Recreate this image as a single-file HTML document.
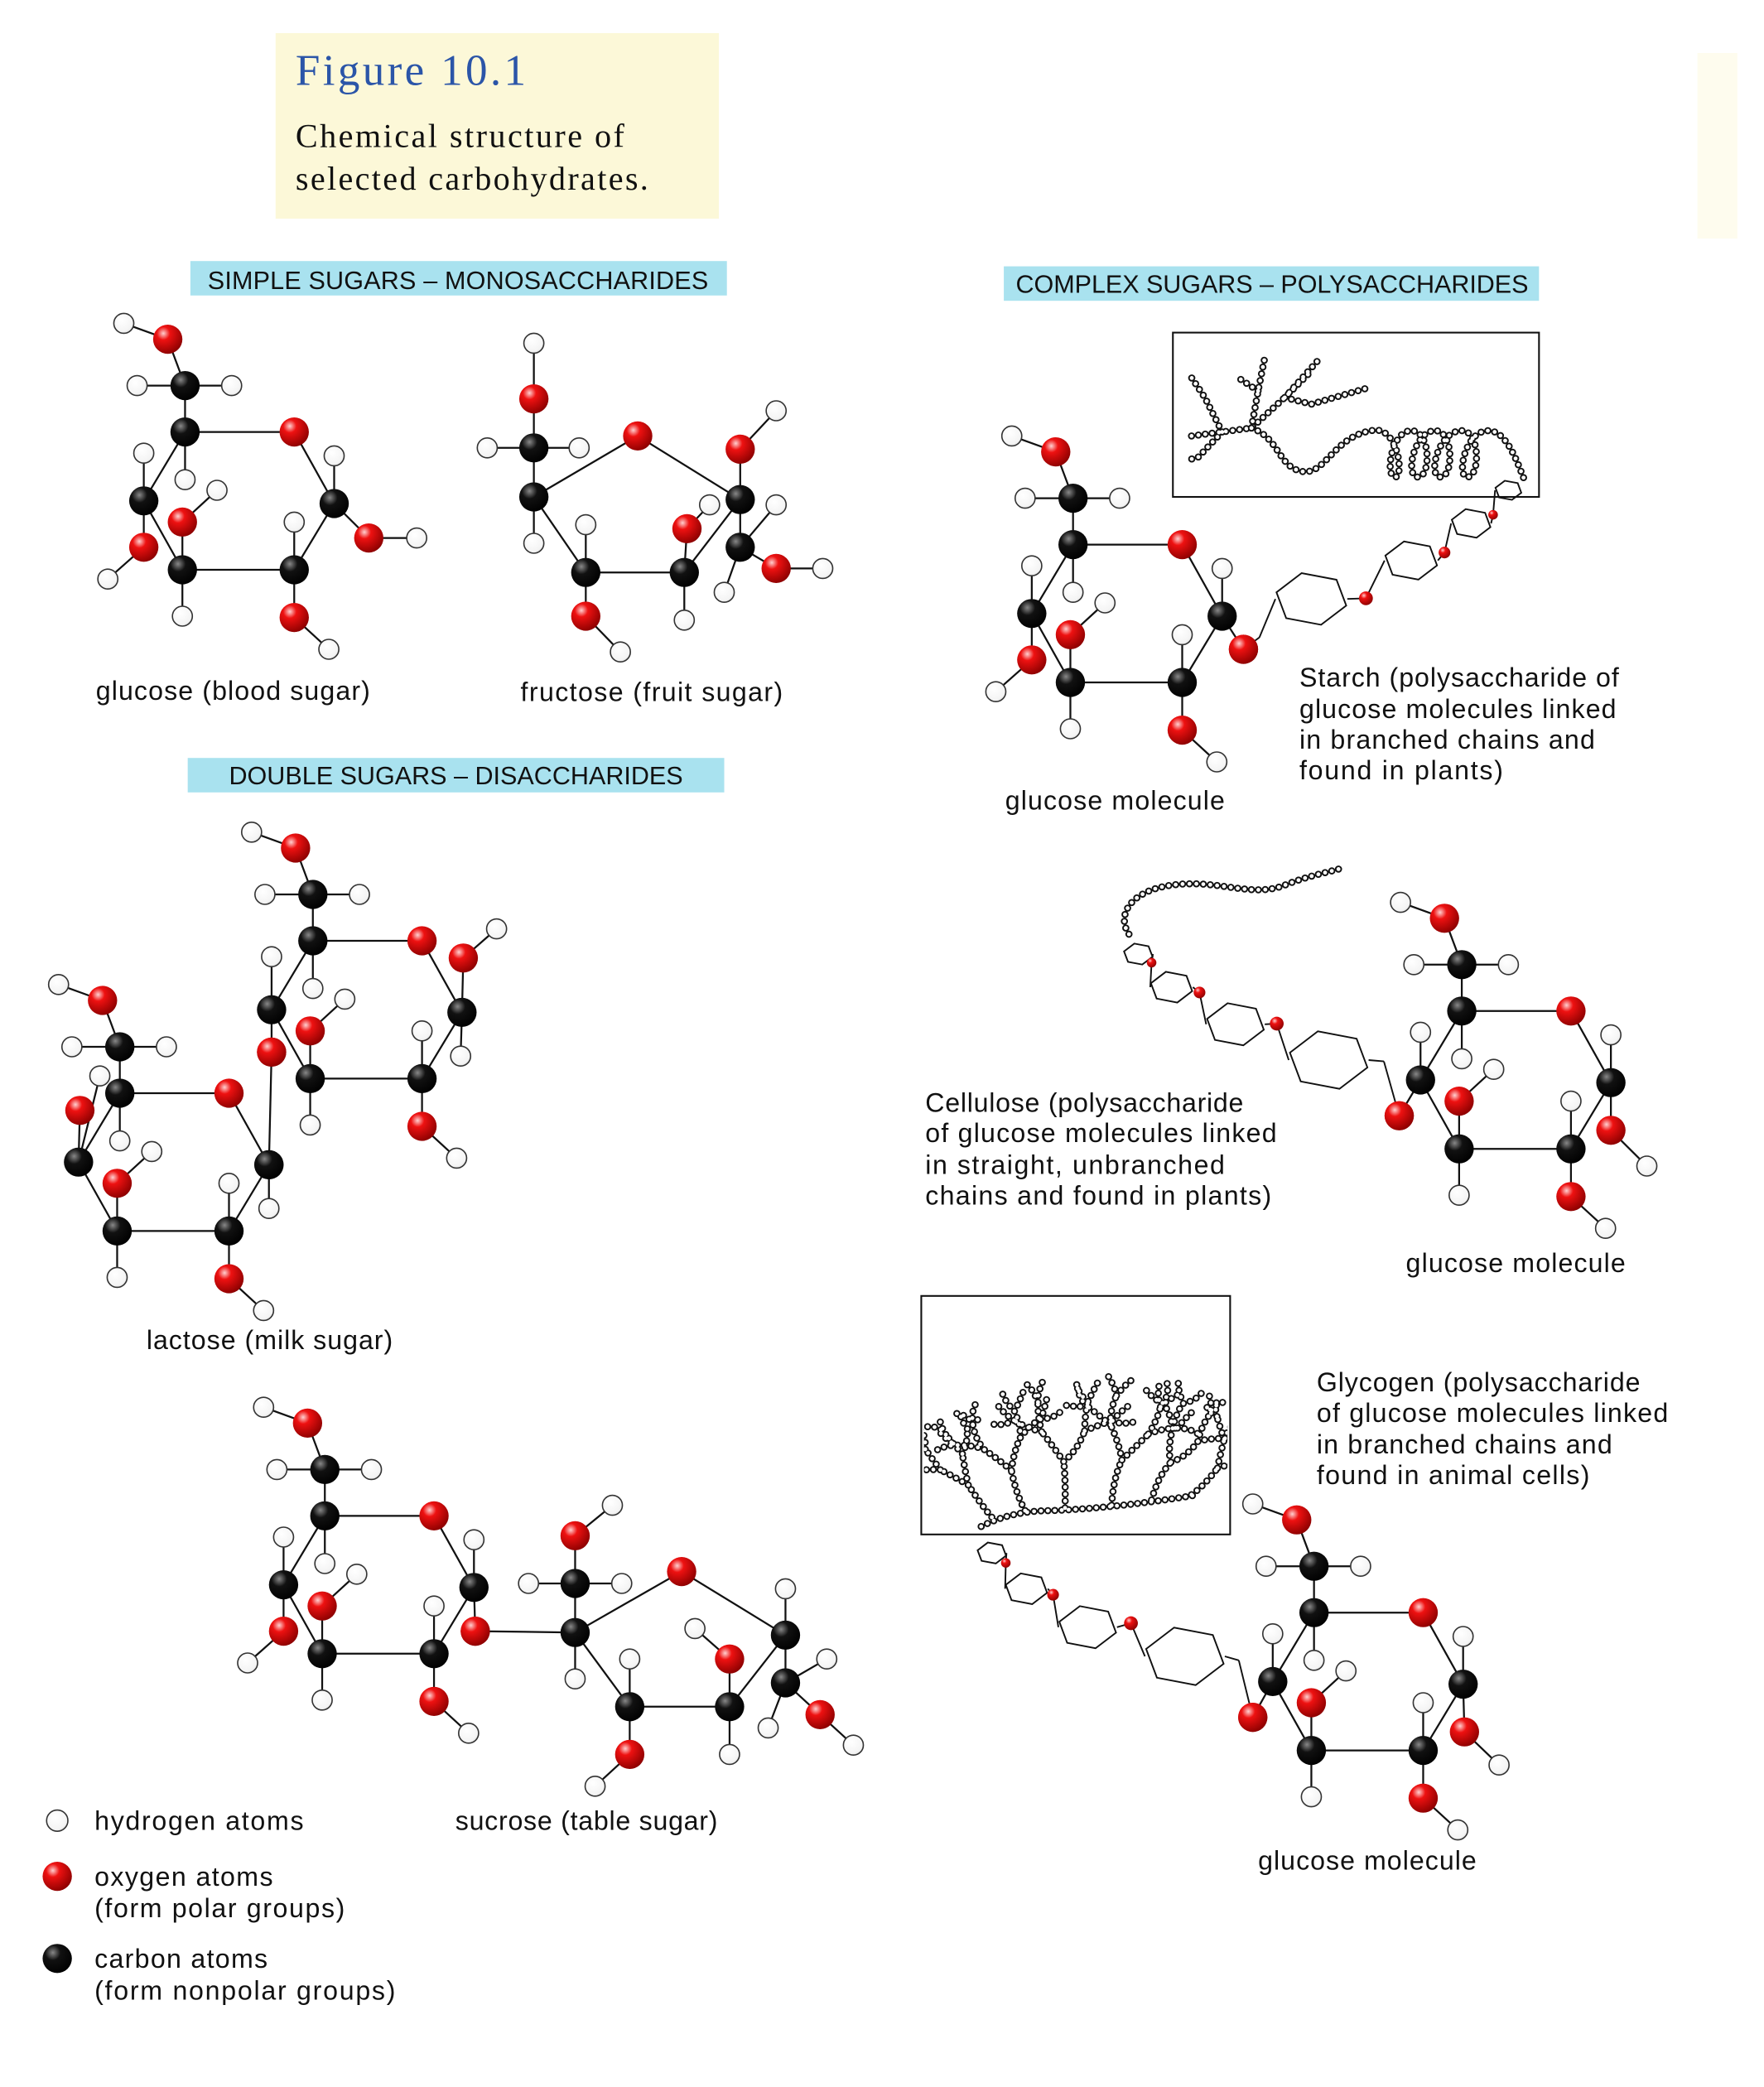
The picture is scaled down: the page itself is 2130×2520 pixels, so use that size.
<!DOCTYPE html>
<html><head><meta charset="utf-8"><style>
html,body{margin:0;padding:0;background:#fff;}
svg{display:block;}
text{font-family:"Liberation Sans",sans-serif;fill:#111;}
</style></head><body>
<svg id="s" width="2130" height="2520" viewBox="0 0 1325 1575" preserveAspectRatio="none" xmlns="http://www.w3.org/2000/svg">
<defs>
<radialGradient id="gO" cx="0.35" cy="0.3" r="0.75"><stop offset="0" stop-color="#ffd0d0"/><stop offset="0.3" stop-color="#ee1111"/><stop offset="1" stop-color="#8a0000"/></radialGradient>
<radialGradient id="gC" cx="0.35" cy="0.3" r="0.75"><stop offset="0" stop-color="#888"/><stop offset="0.35" stop-color="#111"/><stop offset="1" stop-color="#000"/></radialGradient>
<radialGradient id="gH" cx="0.4" cy="0.35" r="0.8"><stop offset="0" stop-color="#fff"/><stop offset="0.7" stop-color="#f4f4f4"/><stop offset="1" stop-color="#ccc"/></radialGradient>
<clipPath id="cb"><rect x="694" y="980" width="228" height="176"/></clipPath>
</defs>
<rect x="207" y="25" width="333" height="140" fill="#fcf8d8"/>
<rect x="1275" y="40" width="30" height="140" fill="#fefcee"/>
<rect x="143" y="197" width="403" height="26" fill="#a9e2ef"/>
<rect x="141" y="572" width="403" height="26" fill="#a9e2ef"/>
<rect x="754" y="201" width="402" height="26" fill="#a9e2ef"/>
<text x="222" y="64" style="font-family:'Liberation Serif',serif;font-size:33px;fill:#2b55a8" textLength="173">Figure 10.1</text>
<text x="222" y="111" style="font-family:'Liberation Serif',serif;font-size:25px" textLength="247">Chemical structure of</text>
<text x="222" y="143" style="font-family:'Liberation Serif',serif;font-size:25px" textLength="265">selected carbohydrates.</text>
<text x="156" y="218" font-size="19" textLength="376">SIMPLE SUGARS – MONOSACCHARIDES</text>
<text x="172" y="592" font-size="19" textLength="341">DOUBLE SUGARS – DISACCHARIDES</text>
<text x="763" y="221" font-size="19" textLength="385">COMPLEX SUGARS – POLYSACCHARIDES</text>
<g font-size="20">
<text x="72" y="528" textLength="206">glucose (blood sugar)</text>
<text x="391" y="529" textLength="197">fructose (fruit sugar)</text>
<text x="110" y="1018" textLength="185">lactose (milk sugar)</text>
<text x="342" y="1381" textLength="197">sucrose (table sugar)</text>
<text x="755" y="611" textLength="165">glucose molecule</text>
<text x="976" y="518" textLength="240">Starch (polysaccharide of</text>
<text x="976" y="542" textLength="238">glucose molecules linked</text>
<text x="976" y="565" textLength="222">in branched chains and</text>
<text x="976" y="588" textLength="153">found in plants)</text>
<text x="695" y="839" textLength="239">Cellulose (polysaccharide</text>
<text x="695" y="862" textLength="264">of glucose molecules linked</text>
<text x="695" y="886" textLength="225">in straight, unbranched</text>
<text x="695" y="909" textLength="260">chains and found in plants)</text>
<text x="1056" y="960" textLength="165">glucose molecule</text>
<text x="989" y="1050" textLength="243">Glycogen (polysaccharide</text>
<text x="989" y="1073" textLength="264">of glucose molecules linked</text>
<text x="989" y="1097" textLength="222">in branched chains and</text>
<text x="989" y="1120" textLength="205">found in animal cells)</text>
<text x="945" y="1411" textLength="164">glucose molecule</text>
<text x="71" y="1381" textLength="157">hydrogen atoms</text>
<text x="71" y="1423" textLength="134">oxygen atoms</text>
<text x="71" y="1447" textLength="188">(form polar groups)</text>
<text x="71" y="1485" textLength="130">carbon atoms</text>
<text x="71" y="1509" textLength="226">(form nonpolar groups)</text>
</g>
<rect x="881" y="251" width="275" height="124" fill="#fff" stroke="#111" stroke-width="1.3"/>
<rect x="692" y="978" width="232" height="180" fill="#fff" stroke="#111" stroke-width="1.3"/>
<g id="L"></g><g id="A"></g><g id="T" clip-path="url(#cb)"></g>
</svg>
<script>
var NS="http://www.w3.org/2000/svg",L=document.getElementById('L'),A=document.getElementById('A'),T=document.getElementById('T');
function el(p,n,a){var e=document.createElementNS(NS,n);for(var k in a)e.setAttribute(k,a[k]);p.appendChild(e);return e;}
function line(x1,y1,x2,y2,w){el(L,'line',{x1:x1,y1:y1,x2:x2,y2:y2,stroke:'#111','stroke-width':w||1.4});}
function atom(x,y,t,r){var R=r||(t=='h'?7.5:11);el(A,'circle',{cx:x,cy:y,r:R,fill:'url(#g'+t.toUpperCase()+')',stroke:t=='h'?'#333':'none','stroke-width':1});}
var G={H6a:[-46,-82,'h'],O6:[-13,-70,'o'],C6:[0,-35,'c'],H6b:[-36,-35,'h'],H6c:[35,-35,'h'],C5:[0,0,'c'],O5:[82,0,'o'],C1:[112,54,'c'],H1:[112,18,'h'],O1:[138,80,'o'],HO1:[174,80,'h'],C2:[82,104,'c'],H2:[82,68,'h'],O2:[82,140,'o'],HO2:[108,164,'h'],C3:[-2,104,'c'],H3:[-2,139,'h'],O3:[-2,68,'o'],HO3:[24,44,'h'],C4:[-31,52,'c'],H4:[-31,16,'h'],O4:[-31,87,'o'],HO4:[-58,111,'h'],H5:[0,36,'h']};
var GB=[['H6a','O6'],['O6','C6'],['C6','H6b'],['C6','H6c'],['C6','C5'],['C5','O5'],['O5','C1'],['C1','H1'],['C1','O1'],['O1','HO1'],['C1','C2'],['C2','H2'],['C2','O2'],['O2','HO2'],['C2','C3'],['C3','H3'],['C3','O3'],['O3','HO3'],['C3','C4'],['C4','H4'],['C4','O4'],['O4','HO4'],['C4','C5'],['C5','H5']];
function glu(x,y,ov,om){ov=ov||{};om=om||[];var P={};
 for(var k in G){if(om.indexOf(k)>=0)continue;var v=ov[k]||G[k];P[k]=[x+v[0],y+v[1],G[k][2]];}
 GB.forEach(function(b){if(P[b[0]]&&P[b[1]])line(P[b[0]][0],P[b[0]][1],P[b[1]][0],P[b[1]][1]);});
 var order=['H6a','H6b','H6c','H5','H2','H4','H1','HO3','H3','HO1','HO2','HO4','O6','C6','C5','O5','C1','O1','C2','O2','C3','C4','O3','O4'];
 order.forEach(function(k){if(P[k])atom(P[k][0],P[k][1],P[k][2]);});return P;}
function mol(atoms,bonds){bonds.forEach(function(b){line(atoms[b[0]][0],atoms[b[0]][1],atoms[b[1]][0],atoms[b[1]][1]);});
 atoms.forEach(function(a){if(a[2]=='h')atom(a[0],a[1],'h');});atoms.forEach(function(a){if(a[2]!='h')atom(a[0],a[1],a[2]);});}
glu(139,326);
mol([[401,259,'h'],[401,301,'o'],[401,338,'c'],[366,338,'h'],[435,338,'h'],[401,375,'c'],[401,410,'h'],[479,329,'o'],[556,377,'c'],[556,339,'o'],[583,310,'h'],[556,413,'c'],[583,429,'o'],[618,429,'h'],[544,447,'h'],[583,381,'h'],[514,432,'c'],[516,399,'o'],[533,381,'h'],[514,468,'h'],[440,432,'c'],[440,396,'h'],[440,465,'o'],[466,492,'h']],
[[0,1],[1,2],[2,3],[2,4],[2,5],[5,6],[5,7],[7,8],[8,9],[9,10],[8,11],[11,12],[12,13],[11,14],[11,15],[8,16],[16,17],[17,18],[16,19],[16,20],[20,21],[20,22],[22,23],[20,5]]);
var gb=glu(90,825,{H4:[-15,-13],O4:[-30,13],H1:[112,87]},['HO4','O1','HO1']);
var gt=glu(235,710,{H1:[111,87],O1:[113,13],HO1:[138,-9],H4:[-31,12],O4:[-31,84]},['HO4']);
line(gt.O4[0],gt.O4[1],gb.C1[0],gb.C1[1]);atom(gt.O4[0],gt.O4[1],'o');atom(gb.C1[0],gb.C1[1],'c');
glu(244,1144,{O1:[113,87]},['HO1']);
line(357,1231,432,1232);atom(357,1231,'o');
mol([[432,1232,'c'],[512,1186,'o'],[590,1234,'c'],[548,1288,'c'],[473,1288,'c'],[432,1195,'c'],[432,1159,'o'],[460,1136,'h'],[397,1195,'h'],[467,1195,'h'],[590,1270,'c'],[616,1294,'o'],[641,1317,'h'],[577,1304,'h'],[621,1252,'h'],[590,1199,'h'],[548,1252,'o'],[522,1229,'h'],[548,1324,'h'],[473,1324,'o'],[447,1348,'h'],[473,1252,'h'],[432,1267,'h']],
[[0,1],[1,2],[2,3],[3,4],[4,0],[0,5],[5,6],[6,7],[5,8],[5,9],[2,10],[10,11],[11,12],[10,13],[10,14],[2,15],[3,16],[16,17],[3,18],[4,19],[19,20],[4,21],[0,22]]);
function hex(cx,cy,r,rot){var p=[];for(var i=0;i<6;i++){var a=(rot||0)+i*Math.PI/3;p.push((cx+r*Math.cos(a)).toFixed(1)+','+(cy+r*0.75*Math.sin(a)).toFixed(1));}
 el(L,'polygon',{points:p.join(' '),fill:'none',stroke:'#111','stroke-width':1.2});}
function chain(start,hexes){var prev=start;var reds=[];
 hexes.forEach(function(h){var l=[h[0]+h[2],h[1]],r=[h[0]-h[2],h[1]];hex(h[0],h[1],Math.abs(h[2]),0.25);
  var o=[(prev[0]+l[0])/2,(prev[1]+l[1])/2+(h[3]||0)];line(prev[0],prev[1],o[0],o[1],1.2);line(o[0],o[1],l[0],l[1],1.2);reds.push(o);prev=r;});
 reds.forEach(function(o,i){if(i>0)atom(o[0],o[1],'o',Math.max(3.5,6-i*0.8));});return prev;}
// starch
glu(806,411,{O1:[128,79]},['HO1']);
chain([934,490],[[985,452,-27,10],[1060,423,-20,14],[1105,395,-15,8],[1133,370,-10,6]]);
atom(934,490,'o');
// cellulose
var GO={O1:[112,90],HO1:[139,117],O2:[82,140],HO2:[108,164]};
glu(1098,763,{O4:[-47,79],O1:[112,90],HO1:[139,117]},['HO4']);
chain([1051,842],[[998,800,30,-20],[928,773,22,-14],[880,745,16,-10],[855,720,11,-6]]);
atom(1051,842,'o');
// glycogen
glu(987,1217,{O4:[-46,79],O1:[113,90],HO1:[139,115]},['HO4']);
chain([941,1296],[[890,1250,30,-20],[817,1228,22,-14],[771,1199,16,-10],[745,1172,11,-6]]);
atom(941,1296,'o');
function beads(d,p){p=p||A;el(p,'path',{d:d,fill:'none',stroke:'#111','stroke-width':5.4,'stroke-linecap':'round','stroke-dasharray':'0 5.2'});
 el(p,'path',{d:d,fill:'none',stroke:'#fff','stroke-width':3,'stroke-linecap':'round','stroke-dasharray':'0 5.2'});}
beads('M848,705 C838,690 850,672 880,668 C915,663 940,678 965,668 C985,660 1000,658 1008,655');
beads('M895,329 L940,323 L965,300 L985,280 M940,323 L945,295 L950,270 M965,300 L990,272 M918,326 L905,300 L895,285 M918,326 L900,345 L893,347 M945,295 L930,285 M965,300 L985,305 L1030,292');
beads('M940,323 C960,330 960,350 975,355 C995,362 1000,330 1030,325 C1050,320 1055,360 1048,360 C1040,360 1045,325 1060,325 C1075,325 1075,360 1065,360 C1055,360 1062,325 1078,325 C1092,325 1092,360 1082,360 C1072,360 1080,325 1098,325 C1112,325 1112,360 1102,360 C1094,360 1100,325 1118,325 C1132,325 1140,350 1145,362');
// glycogen tree
var seed=11;function rnd(){seed=(seed*9301+49297)%233280;return seed/233280;}
var d='';
function br(x,y,ang,len,depth){var x2=x+len*Math.cos(ang),y2=y+len*Math.sin(ang);
 var mx=(x+x2)/2+(rnd()-0.5)*8,my=(y+y2)/2+(rnd()-0.5)*8;
 d+='M'+x.toFixed(1)+','+y.toFixed(1)+' Q'+mx.toFixed(1)+','+my.toFixed(1)+' '+x2.toFixed(1)+','+y2.toFixed(1)+' ';
 if(depth>0){br(x2,y2,ang-0.35-rnd()*0.3,len*0.8,depth-1);br(x2,y2,ang+0.35+rnd()*0.3,len*0.8,depth-1);}}
d+='M737,1152 Q760,1140 790,1140 Q840,1138 900,1128 ';
br(745,1145,-2.2,30,3);br(770,1140,-1.9,32,3);br(800,1138,-1.6,35,3);br(835,1136,-1.35,35,3);br(865,1132,-1.1,32,3);br(895,1128,-0.8,28,3);
beads(d,T);
atom(43,1374,'h',8);atom(43,1416,'o',11);atom(43,1478,'c',11);
</script>
</body></html>
